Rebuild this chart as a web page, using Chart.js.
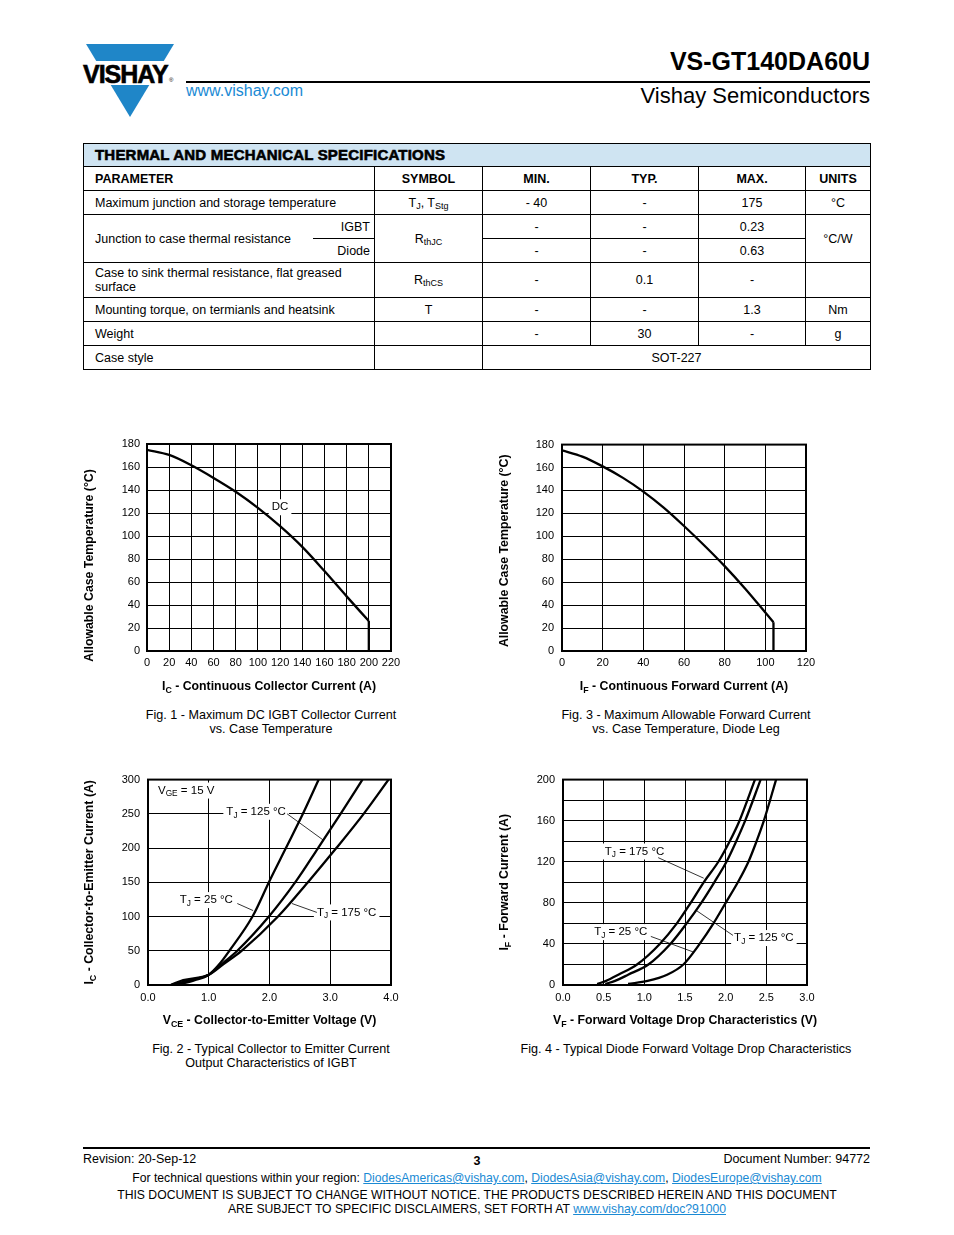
<!DOCTYPE html>
<html>
<head>
<meta charset="utf-8">
<title>VS-GT140DA60U - page 3</title>
<script src="https://cdn.jsdelivr.net/npm/chart.js@4.4.1/dist/chart.umd.min.js"></script>
<style>
  body { margin: 0; width: 954px; height: 1235px; position: relative; overflow: hidden;
         background: #fff; color: #000; font-family: "Liberation Sans", Arial, sans-serif; }
  .abs { position: absolute; white-space: nowrap; }
  a { color: #1a8ad4; text-decoration: underline; }
  #partNo { right: 84px; top: 49px; font-size: 25px; font-weight: bold; line-height: 1; }
  #division { right: 84px; top: 85px; font-size: 22px; line-height: 1; }
  #web { left: 186px; top: 83px; font-size: 16px; color: #1a8ad4; line-height: 1; }
  #topRule { left: 186px; top: 81px; width: 684px; height: 2px; background: #000; }

  #spec { position: absolute; left: 83px; top: 143px; width: 787px; border-collapse: collapse;
          font-size: 12.5px; table-layout: fixed; }
  #spec td { border: 1px solid #000; text-align: center; padding: 0 4px; height: 23px; line-height: 14px; }
  #spec td.l { text-align: left; padding-left: 11px; }
  #spec td.r { text-align: right; padding-right: 4px; }
  #spec td.nr { border-right: none; }
  #spec td.nl { border-left: none; }
  #spec tr.title td { background: #cfe4f2; font-weight: 900; font-size: 15px; text-align: left;
                      padding-left: 11px; height: 22px; -webkit-text-stroke: 0.6px #000; letter-spacing: 0.2px; }
  #spec tr.head td { font-weight: bold; font-size: 12.5px; }
  #spec tr.tall td { height: 34px; }
  #spec sub { font-size: 9px; vertical-align: -2px; line-height: 0; }

  canvas { position: absolute; }
  .cap { font-size: 12.6px; text-align: center; line-height: 14px; width: 400px; }

  #botRule { left: 83px; top: 1147px; width: 787px; height: 2px; background: #000; }
  .foot { font-size: 12.5px; line-height: 14px; }
  .foot.small { font-size: 12.2px; }
</style>
</head>
<body>

<!-- header -->
<svg class="abs" style="left:80px;top:40px" width="105" height="82" viewBox="80 40 105 82">
  <polygon points="86,44 174,44 130,117" fill="#1f86c8"/>
  <rect x="80" y="61" width="100" height="24" fill="#fff"/>
  <text x="83" y="83" font-family="Liberation Sans, Arial, sans-serif" font-weight="bold"
        font-size="25" letter-spacing="-1" stroke="#000" stroke-width="0.6" fill="#000">VISHAY</text>
  <text x="169" y="82" font-family="Liberation Sans, Arial, sans-serif" font-size="6" fill="#000">®</text>
</svg>
<div id="topRule" class="abs"></div>
<div id="web" class="abs">www.vishay.com</div>
<div id="partNo" class="abs">VS-GT140DA60U</div>
<div id="division" class="abs">Vishay Semiconductors</div>

<!-- specification table -->
<table id="spec">
  <colgroup>
    <col style="width:229px"><col style="width:62px"><col style="width:108px"><col style="width:108px">
    <col style="width:108px"><col style="width:107px"><col style="width:65px">
  </colgroup>
  <tr class="title"><td colspan="7">THERMAL AND MECHANICAL SPECIFICATIONS</td></tr>
  <tr class="head"><td colspan="2" class="l">PARAMETER</td><td>SYMBOL</td><td>MIN.</td><td>TYP.</td><td>MAX.</td><td>UNITS</td></tr>
  <tr><td colspan="2" class="l">Maximum junction and storage temperature</td><td>T<sub>J</sub>, T<sub>Stg</sub></td><td>- 40</td><td>-</td><td>175</td><td>°C</td></tr>
  <tr><td rowspan="2" class="l nr">Junction to case thermal resistance</td><td class="r nl">IGBT</td><td rowspan="2">R<sub>thJC</sub></td><td>-</td><td>-</td><td>0.23</td><td rowspan="2">°C/W</td></tr>
  <tr><td class="r nl">Diode</td><td>-</td><td>-</td><td>0.63</td></tr>
  <tr class="tall"><td colspan="2" class="l">Case to sink thermal resistance, flat greased<br>surface</td><td>R<sub>thCS</sub></td><td>-</td><td>0.1</td><td>-</td><td></td></tr>
  <tr><td colspan="2" class="l">Mounting torque, on termianls and heatsink</td><td>T</td><td>-</td><td>-</td><td>1.3</td><td>Nm</td></tr>
  <tr><td colspan="2" class="l">Weight</td><td></td><td>-</td><td>30</td><td>-</td><td>g</td></tr>
  <tr><td colspan="2" class="l">Case style</td><td></td><td colspan="4">SOT-227</td></tr>
</table>

<!-- charts -->
<canvas id="fig1" width="330" height="270" style="left:80px;top:430px"></canvas>
<canvas id="fig3" width="330" height="270" style="left:495px;top:430px"></canvas>
<canvas id="fig2" width="330" height="270" style="left:80px;top:765px"></canvas>
<canvas id="fig4" width="330" height="270" style="left:495px;top:765px"></canvas>

<div class="abs cap" style="left:71px;top:708px">Fig. 1 - Maximum DC IGBT Collector Current<br>vs. Case Temperature</div>
<div class="abs cap" style="left:486px;top:708px">Fig. 3 - Maximum Allowable Forward Current<br>vs. Case Temperature, Diode Leg</div>
<div class="abs cap" style="left:71px;top:1042px">Fig. 2 - Typical Collector to Emitter Current<br>Output Characteristics of IGBT</div>
<div class="abs cap" style="left:486px;top:1042px">Fig. 4 - Typical Diode Forward Voltage Drop Characteristics</div>

<!-- footer -->
<div id="botRule" class="abs"></div>
<div class="abs foot" style="left:83px;top:1152px">Revision: 20-Sep-12</div>
<div class="abs foot" style="left:467px;top:1154px;width:20px;text-align:center;font-weight:bold">3</div>
<div class="abs foot" style="right:84px;top:1152px">Document Number: 94772</div>
<div class="abs foot small" style="left:0;width:954px;text-align:center;top:1171px">For technical questions within your region: <a>DiodesAmericas@vishay.com</a>, <a>DiodesAsia@vishay.com</a>, <a>DiodesEurope@vishay.com</a></div>
<div class="abs foot small" style="left:0;width:954px;text-align:center;top:1188px">THIS DOCUMENT IS SUBJECT TO CHANGE WITHOUT NOTICE. THE PRODUCTS DESCRIBED HEREIN AND THIS DOCUMENT<br>ARE SUBJECT TO SPECIFIC DISCLAIMERS, SET FORTH AT <a>www.vishay.com/doc?91000</a></div>

<script>
// Fig. 1 - max DC IGBT collector current vs case temperature
const fig1Current = [0, 20, 40, 60, 80, 100, 120, 140, 160, 180, 200];
const fig1CaseTemp = [175, 170.5, 161.5, 150.5, 138.5, 124.5, 108.5, 90.5, 69.5, 47.5, 26];
const fig1CurrentTicks = [0, 20, 40, 60, 80, 100, 120, 140, 160, 180, 200, 220];
const fig1TempTicks = [0, 20, 40, 60, 80, 100, 120, 140, 160, 180];

// Fig. 3 - max forward current vs case temperature, diode leg
const fig3Current = [0, 10, 20, 30, 40, 50, 60, 70, 80, 90, 100, 104];
const fig3CaseTemp = [175, 169.5, 161, 151, 139, 125, 109, 92, 74, 54.5, 33.5, 25];
const fig3CurrentTicks = [0, 20, 40, 60, 80, 100, 120];
const fig3TempTicks = [0, 20, 40, 60, 80, 100, 120, 140, 160, 180];

// Fig. 2 - IGBT output characteristics, VGE = 15 V
const fig2Current = [0.5, 7, 15, 31, 50, 100, 152, 200, 250, 300];
const fig2Vce25 = [0.50, 0.77, 1.00, 1.18, 1.34, 1.72, 2.00, 2.27, 2.55, 2.81];
const fig2Vce125 = [0.42, 0.69, 1.00, 1.22, 1.47, 1.99, 2.44, 2.80, 3.17, 3.53];
const fig2Vce175 = [0.38, 0.58, 1.00, 1.25, 1.54, 2.14, 2.65, 3.10, 3.55, 3.96];
const fig2VoltTicks = [0, 1, 2, 3, 4];
const fig2CurrentTicks = [0, 50, 100, 150, 200, 250, 300];

// Fig. 4 - diode forward voltage drop
const fig4Current = [1, 4, 10, 20, 40, 60, 80, 100, 120, 140, 160, 200];
const fig4Vf25 = [0.80, 1.04, 1.28, 1.48, 1.68, 1.85, 2.00, 2.15, 2.28, 2.38, 2.47, 2.62];
const fig4Vf125 = [0.52, 0.64, 0.80, 1.05, 1.32, 1.52, 1.70, 1.86, 2.01, 2.13, 2.24, 2.43];
const fig4Vf175 = [0.42, 0.53, 0.68, 0.91, 1.19, 1.40, 1.57, 1.73, 1.91, 2.05, 2.17, 2.36];
const fig4VoltTicks = [0, 0.5, 1, 1.5, 2, 2.5, 3];
const fig4CurrentTicks = [0, 20, 40, 60, 80, 100, 120, 140, 160, 180, 200];
const fig4CurrentLabels = [0, 40, 80, 120, 160, 200];

const FONT = '"Liberation Sans", Arial, sans-serif';

// split "I_{C} - ..." into [text, isSubscript] pieces
function pieces(str) {
  return str.split(/(_\{[^}]*\})/).filter(Boolean)
    .map(p => p.startsWith('_{') ? [p.slice(2, -1), true] : [p, false]);
}

function richWidth(ctx, str, size, weight) {
  let w = 0;
  pieces(str).forEach(([t, sub]) => {
    ctx.font = `${weight} ${sub ? size * 0.72 : size}px ${FONT}`;
    w += ctx.measureText(t).width;
  });
  return w;
}

function drawRich(ctx, str, x, y, size, weight) {
  ctx.textBaseline = 'middle';
  ctx.textAlign = 'left';
  ctx.fillStyle = '#000';
  pieces(str).forEach(([t, sub]) => {
    ctx.font = `${weight} ${sub ? size * 0.72 : size}px ${FONT}`;
    ctx.fillText(t, x, sub ? y + size * 0.3 : y);
    x += ctx.measureText(t).width;
  });
}

// frame, axis titles and callout labels
const sheetPlugin = {
  id: 'sheet',
  beforeDatasetsDraw(chart, args, opts) {
    const { ctx, scales: { x, y } } = chart;
    ctx.save();
    (opts.notes || []).forEach(n => {
      const px = x.getPixelForValue(n.x), py = y.getPixelForValue(n.y);
      const w = richWidth(ctx, n.text, 11.5, 'normal');
      const left = n.align === 'left' ? px : px - w / 2;
      ctx.fillStyle = '#fff';
      ctx.fillRect(left - 3, py - 8, w + 6, 16);
      drawRich(ctx, n.text, left, py, 11.5, 'normal');
      if (n.line) {
        ctx.beginPath();
        ctx.moveTo(x.getPixelForValue(n.line[0]), y.getPixelForValue(n.line[1]));
        ctx.lineTo(x.getPixelForValue(n.line[2]), y.getPixelForValue(n.line[3]));
        ctx.lineWidth = 0.8;
        ctx.strokeStyle = '#000';
        ctx.stroke();
      }
    });
    ctx.restore();
  },
  afterDatasetsDraw(chart) {
    const { ctx, chartArea: a } = chart;
    ctx.save();
    ctx.lineWidth = 2;
    ctx.strokeStyle = '#000';
    ctx.strokeRect(a.left, a.top, a.right - a.left, a.bottom - a.top);
    ctx.restore();
  },
  afterDraw(chart, args, opts) {
    const { ctx, chartArea: a } = chart;
    ctx.save();
    const xw = richWidth(ctx, opts.xTitle, 12.3, 'bold');
    drawRich(ctx, opts.xTitle, (a.left + a.right) / 2 - xw / 2, a.bottom + 36, 12.3, 'bold');
    const yw = richWidth(ctx, opts.yTitle, 12.3, 'bold');
    ctx.translate(10, (a.top + a.bottom) / 2 + (opts.yShift || 0));
    ctx.rotate(-Math.PI / 2);
    drawRich(ctx, opts.yTitle, -yw / 2, 0, 12.3, 'bold');
    ctx.restore();
  }
};

// smooth = monotone spline through the read points, otherwise straight segment
function curve(xs, ys, smooth) {
  return {
    data: xs.map((v, i) => ({ x: v, y: ys[i] })),
    borderColor: '#000',
    borderWidth: 2.3,
    pointRadius: 0,
    fill: false,
    cubicInterpolationMode: smooth ? 'monotone' : 'default',
    tension: 0
  };
}

function axis(ticks, size, pad, fmt, show) {
  return {
    type: 'linear',
    min: ticks[0],
    max: ticks[ticks.length - 1],
    afterBuildTicks: s => { s.ticks = ticks.map(v => ({ value: v })); },
    afterFit: s => { if (s.isHorizontal()) s.height = size; else s.width = size; },
    grid: { color: '#000', lineWidth: 1, drawTicks: false },
    border: { display: false },
    ticks: {
      color: '#000', padding: pad, autoSkip: false, maxRotation: 0,
      font: { family: FONT, size: 11 },
      callback: v => (show && !show.includes(v)) ? '' : fmt(v)
    }
  };
}

function makeChart(id, o) {
  return new Chart(document.getElementById(id), {
    type: 'line',
    data: { datasets: o.datasets },
    options: {
      responsive: false,
      animation: false,
      layout: { padding: { top: o.padTop, right: o.padRight, left: 0, bottom: 0 } },
      plugins: {
        legend: { display: false },
        tooltip: { enabled: false },
        sheet: { xTitle: o.xTitle, yTitle: o.yTitle, yShift: o.yShift, notes: o.notes }
      },
      scales: { x: o.x, y: o.y }
    },
    plugins: [sheetPlugin]
  });
}

const plain = v => String(v);
const oneDec = v => v.toFixed(1);

makeChart('fig1', {
  datasets: [
    curve(fig1Current, fig1CaseTemp, true),
    curve([fig1Current.at(-1), fig1Current.at(-1)], [fig1CaseTemp.at(-1), 0], false)
  ],
  padTop: 14, padRight: 19, yShift: 18,
  x: axis(fig1CurrentTicks, 49, 5, plain),
  y: axis(fig1TempTicks, 67, 7, plain),
  xTitle: 'I_{C} - Continuous Collector Current (A)',
  yTitle: 'Allowable Case Temperature (°C)',
  notes: [{ text: 'DC', x: 120, y: 125 }]
});

makeChart('fig3', {
  datasets: [
    curve(fig3Current, fig3CaseTemp, true),
    curve([fig3Current.at(-1), fig3Current.at(-1)], [fig3CaseTemp.at(-1), 0], false)
  ],
  padTop: 14, padRight: 19, yShift: 3,
  x: axis(fig3CurrentTicks, 49, 5, plain),
  y: axis(fig3TempTicks, 67, 8, plain),
  xTitle: 'I_{F} - Continuous Forward Current (A)',
  yTitle: 'Allowable Case Temperature (°C)',
  notes: []
});

makeChart('fig2', {
  datasets: [
    curve(fig2Vce25, fig2Current, true),
    curve(fig2Vce125, fig2Current, true),
    curve(fig2Vce175, fig2Current, true)
  ],
  padTop: 13, padRight: 19, yShift: 0,
  x: axis(fig2VoltTicks, 50, 6, oneDec),
  y: axis(fig2CurrentTicks, 68, 8, plain),
  xTitle: 'V_{CE} - Collector-to-Emitter Voltage (V)',
  yTitle: 'I_{C} - Collector-to-Emitter Current (A)',
  notes: [
    { text: 'V_{GE} = 15 V', x: 0.165, y: 284, align: 'left' },
    { text: 'T_{J} = 125 °C', x: 1.78, y: 253, line: [2.29, 250, 2.88, 212] },
    { text: 'T_{J} = 25 °C', x: 0.96, y: 124, line: [1.47, 119, 1.73, 108.7] },
    { text: 'T_{J} = 175 °C', x: 3.27, y: 106, line: [2.37, 119, 2.78, 106] }
  ]
});

makeChart('fig4', {
  datasets: [
    curve(fig4Vf25, fig4Current, true),
    curve(fig4Vf125, fig4Current, true),
    curve(fig4Vf175, fig4Current, true)
  ],
  padTop: 13, padRight: 18, yShift: 0,
  x: axis(fig4VoltTicks, 50, 6, oneDec),
  y: axis(fig4CurrentTicks, 68, 8, plain, fig4CurrentLabels),
  xTitle: 'V_{F} - Forward Voltage Drop Characteristics (V)',
  yTitle: 'I_{F} - Forward Current (A)',
  notes: [
    { text: 'T_{J} = 175 °C', x: 0.88, y: 130, line: [1.17, 124, 1.73, 104] },
    { text: 'T_{J} = 25 °C', x: 0.71, y: 51.5, line: [1.08, 47.3, 1.60, 32.2] },
    { text: 'T_{J} = 125 °C', x: 2.47, y: 45.7, line: [1.64, 72.5, 2.09, 48.3] }
  ]
});
</script>
</body>
</html>
